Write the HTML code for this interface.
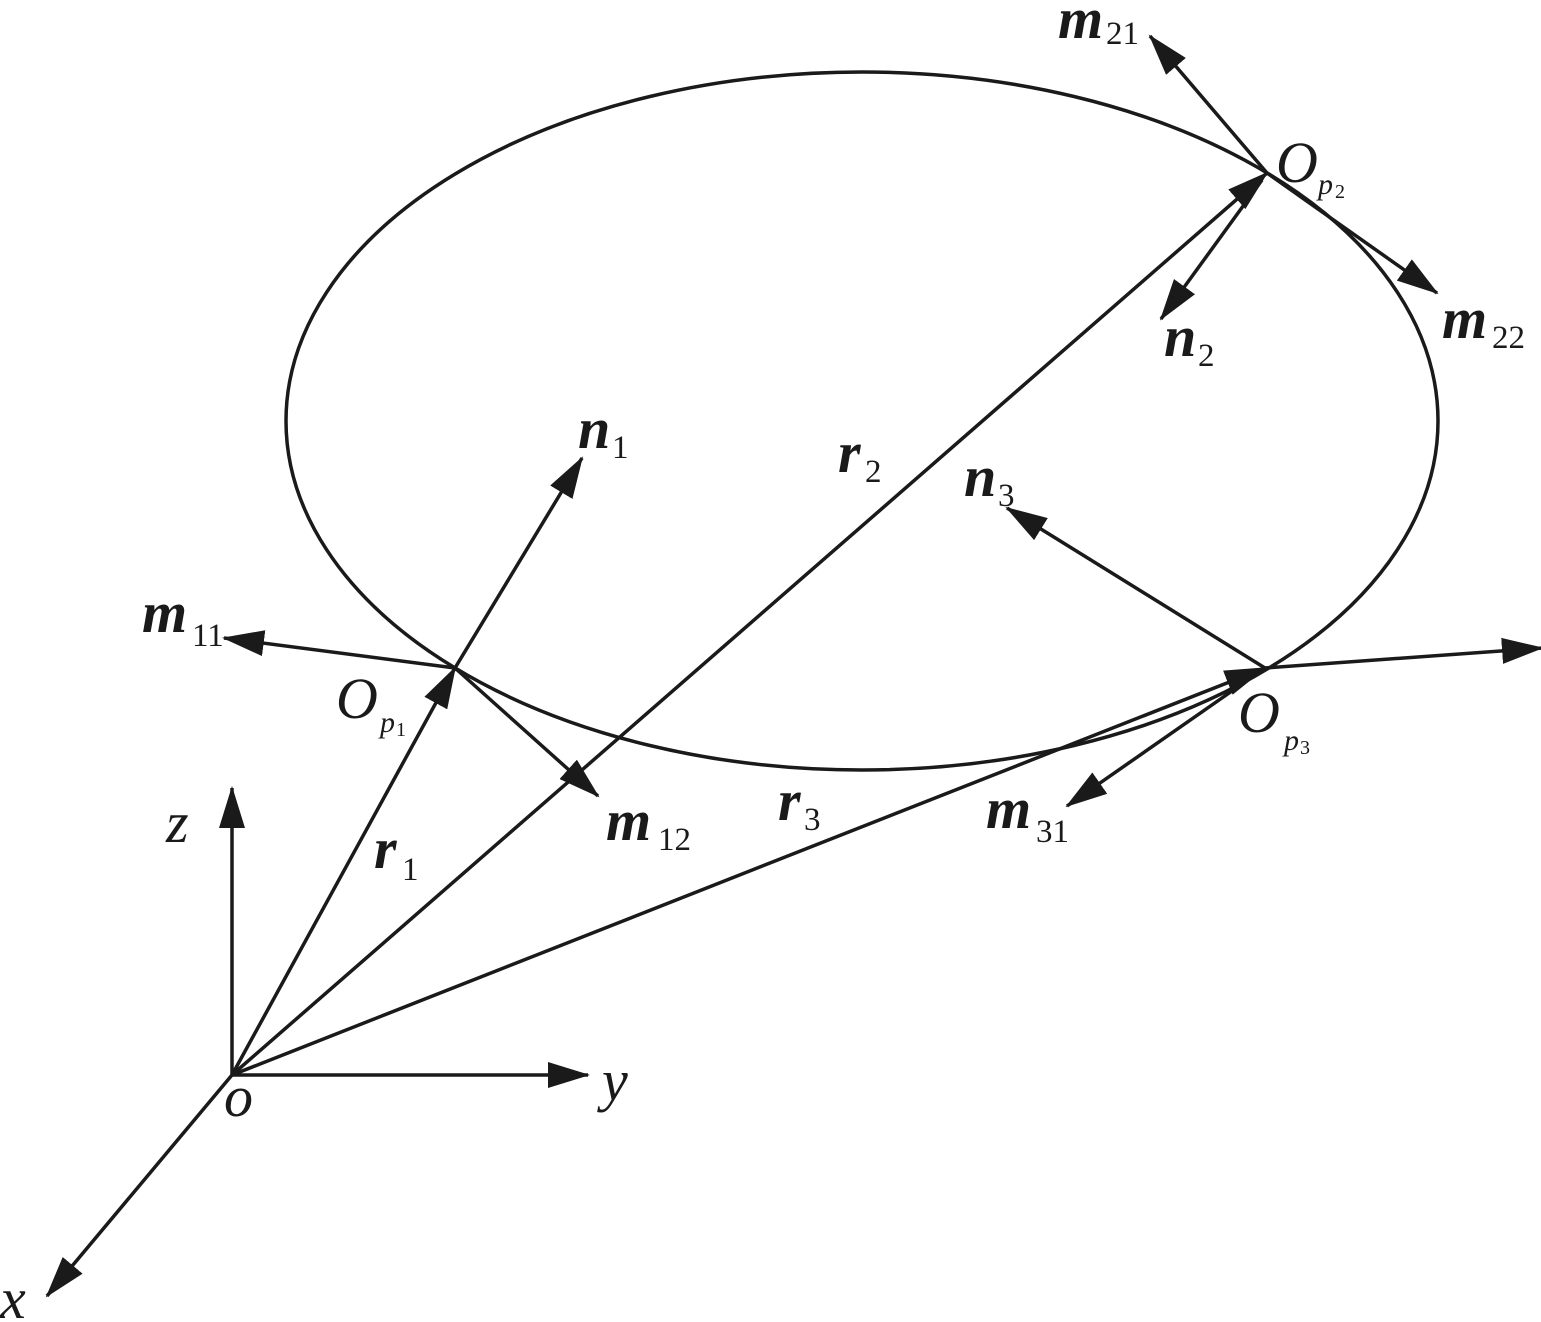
<!DOCTYPE html>
<html><head><style>
html,body{margin:0;padding:0;background:#fff;}
svg{display:block;}
.v{font-family:"Liberation Serif",serif;font-style:italic;font-weight:bold;font-size:58px;fill:#1a1a1a;}
.i{font-family:"Liberation Serif",serif;font-style:italic;font-size:58px;fill:#1a1a1a;}
.s{font-family:"Liberation Serif",serif;font-size:33px;fill:#1a1a1a;}
.ss{font-family:"Liberation Serif",serif;font-style:italic;font-size:30px;fill:#1a1a1a;}
.sss{font-family:"Liberation Serif",serif;font-size:20px;fill:#1a1a1a;}
</style></head><body>
<svg width="1541" height="1322" viewBox="0 0 1541 1322" xmlns="http://www.w3.org/2000/svg">
<defs>
<marker id="a" markerUnits="userSpaceOnUse" markerWidth="42" markerHeight="26" refX="40" refY="13" orient="auto">
<path d="M0,0 L42,13 L0,26 Z" fill="#1a1a1a"/>
</marker>
</defs>
<g stroke="#1a1a1a" stroke-width="3.5" fill="none">
<ellipse cx="862" cy="421" rx="576" ry="349"/>
<line x1="232" y1="1075" x2="232" y2="788" marker-end="url(#a)"/>
<line x1="232" y1="1075" x2="588" y2="1075" marker-end="url(#a)"/>
<line x1="232" y1="1075" x2="47" y2="1296" marker-end="url(#a)"/>
<line x1="232" y1="1075" x2="455" y2="668" marker-end="url(#a)"/>
<line x1="232" y1="1075" x2="1267" y2="173" marker-end="url(#a)"/>
<line x1="232" y1="1075" x2="1265" y2="668" marker-end="url(#a)"/>
<line x1="455" y1="668" x2="582" y2="458" marker-end="url(#a)"/>
<line x1="455" y1="668" x2="224" y2="638" marker-end="url(#a)"/>
<line x1="455" y1="668" x2="598" y2="796" marker-end="url(#a)"/>
<line x1="1267" y1="173" x2="1150" y2="36" marker-end="url(#a)"/>
<line x1="1267" y1="173" x2="1437" y2="293" marker-end="url(#a)"/>
<line x1="1262" y1="180" x2="1161" y2="319" marker-end="url(#a)"/>
<line x1="1265" y1="668" x2="1007" y2="508" marker-end="url(#a)"/>
<line x1="1265" y1="668" x2="1067" y2="806" marker-end="url(#a)"/>
<line x1="1265" y1="668" x2="1542" y2="648" marker-end="url(#a)"/>
</g>
<text class="v" x="1058" y="38">m</text><text class="s" x="1106" y="44">21</text>
<text class="i" x="1276" y="182">O</text><text class="ss" x="1318" y="194">p</text><text class="sss" x="1335" y="198">2</text>
<text class="v" x="1164" y="356">n</text><text class="s" x="1198" y="366">2</text>
<text class="v" x="1442" y="338">m</text><text class="s" x="1492" y="348">22</text>
<text class="v" x="578" y="448">n</text><text class="s" x="612" y="458">1</text>
<text class="v" x="838" y="472">r</text><text class="s" x="865" y="482">2</text>
<text class="v" x="964" y="496">n</text><text class="s" x="998" y="506">3</text>
<text class="v" x="142" y="632">m</text><text class="s" x="192" y="646">11</text>
<text class="i" x="336" y="718">O</text><text class="ss" x="380" y="732">p</text><text class="sss" x="396" y="736">1</text>
<text class="i" x="1238" y="732">O</text><text class="ss" x="1284" y="750">p</text><text class="sss" x="1300" y="754">3</text>
<text class="v" x="606" y="840">m</text><text class="s" x="658" y="850">12</text>
<text class="v" x="778" y="820">r</text><text class="s" x="804" y="830">3</text>
<text class="v" x="986" y="828">m</text><text class="s" x="1036" y="842">31</text>
<text class="i" x="166" y="842">z</text>
<text class="v" x="374" y="868">r</text><text class="s" x="402" y="880">1</text>
<text class="i" x="602" y="1100">y</text>
<text class="i" x="224" y="1116">o</text>
<text class="i" x="0" y="1318">x</text>
</svg>
</body></html>
